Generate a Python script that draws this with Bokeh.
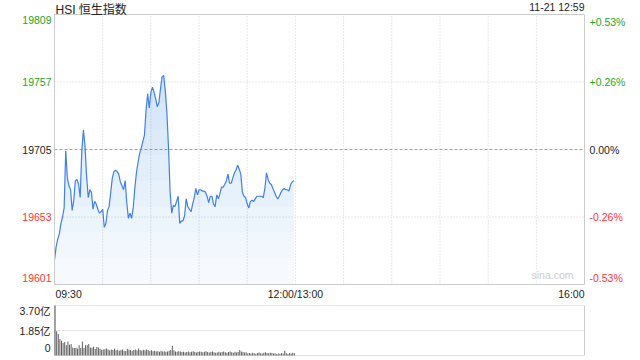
import numpy as np
from bokeh.plotting import figure
from bokeh.models import Label, Range1d
from bokeh.layouts import column
from bokeh.embed import file_html
from bokeh.resources import INLINE

# ---------------- data ----------------
title_text = "HSI 恒生指数"
stamp_text = "11-21 12:59"
prev_close = 19705
price_ticks = [19601, 19653, 19705, 19757, 19809]
pct_labels = ["-0.53%", "-0.26%", "0.00%", "+0.26%", "+0.53%"]
session_minutes = 330  # 09:30-12:00 + 13:00-16:00
time_tick_minutes = [0, 150, 330]
time_tick_labels = ["09:30", "12:00/13:00", "16:00"]
grid_minutes = [30, 60, 90, 120, 150, 180, 210, 240, 270, 300]
vol_ticks = [0, 1.85, 3.70]
vol_tick_labels = ["0", "1.85亿", "3.70亿"]
watermark = "sina.com"

minutes = list(range(150))
price = [
    19620, 19630, 19636, 19640, 19648, 19653, 19660, 19704, 19683, 19677,
    19674, 19658, 19666, 19681, 19682, 19678, 19668, 19704, 19720, 19708,
    19684, 19668, 19674, 19672, 19659, 19665, 19663, 19659, 19656, 19657,
    19659, 19645, 19648, 19658, 19661, 19672, 19683, 19688, 19689, 19688,
    19686, 19680, 19677, 19674, 19681, 19664, 19652, 19656, 19652, 19660,
    19675, 19687, 19695, 19702, 19706, 19711, 19716, 19735, 19748, 19737,
    19749, 19753, 19749, 19744, 19738, 19741, 19752, 19761, 19762, 19750,
    19733, 19706, 19672, 19656, 19662, 19661, 19665, 19669, 19648, 19650,
    19650, 19654, 19667, 19661, 19659, 19657, 19663, 19668, 19675, 19670,
    19674, 19674, 19673, 19673, 19672, 19669, 19664, 19669, 19669, 19663,
    19661, 19670, 19667, 19671, 19676, 19676, 19678, 19681, 19686, 19679,
    19679, 19683, 19687, 19689, 19693, 19690, 19686, 19672, 19669, 19668,
    19663, 19660, 19665, 19666, 19665, 19667, 19669, 19669, 19669, 19669,
    19668, 19675, 19687, 19682, 19679, 19678, 19675, 19672, 19669, 19667,
    19669, 19672, 19674, 19675, 19674, 19674, 19673, 19678, 19680, 19681,
]
volume = [
    3.70, 1.79, 1.59, 1.22, 1.09, 0.92, 0.99, 0.75, 1.04, 0.80,
    0.85, 0.60, 0.55, 0.57, 0.52, 0.75, 0.55, 1.04, 0.55, 0.75,
    0.75, 0.85, 0.60, 0.57, 0.65, 0.48, 0.62, 0.60, 0.50, 0.42,
    0.45, 0.47, 0.52, 0.45, 0.38, 0.45, 0.40, 0.50, 0.38, 0.42,
    0.35, 0.40, 0.44, 0.36, 0.33, 0.48, 0.42, 0.38, 0.35, 0.40,
    0.45, 0.38, 0.52, 0.40, 0.36, 0.42, 0.38, 0.45, 0.40, 0.34,
    0.38, 0.32, 0.36, 0.30, 0.33, 0.28, 0.35, 0.30, 0.32, 0.27,
    0.30, 0.35, 0.40, 0.72, 0.38, 0.30, 0.28, 0.32, 0.30, 0.25,
    0.27, 0.22, 0.25, 0.30, 0.24, 0.28, 0.32, 0.26, 0.22, 0.25,
    0.30, 0.27, 0.24, 0.28, 0.31, 0.25, 0.22, 0.26, 0.29, 0.24,
    0.20, 0.23, 0.27, 0.22, 0.25, 0.29, 0.24, 0.20, 0.26, 0.30,
    0.24, 0.21, 0.27, 0.23, 0.26, 0.40, 0.30, 0.26, 0.22, 0.24,
    0.15, 0.18, 0.14, 0.20, 0.16, 0.13, 0.18, 0.22, 0.17, 0.15,
    0.20, 0.24, 0.19, 0.16, 0.21, 0.18, 0.14, 0.16, 0.12, 0.15,
    0.13, 0.17, 0.14, 0.35, 0.16, 0.12, 0.18, 0.15, 0.20, 0.17,
]

# ---------------- style ----------------
FONT = "Liberation Sans, Noto Sans CJK SC"
GREEN = "#1ea51e"
RED = "#ff3535"
DARK = "#222222"
GRID = "#d0d0d0"
BOX = "#cccccc"
LINE = "#3f80ea"
FS = "10.5px"

W = 640
PAD_L, PAD_R = 54, 56          # room for tick labels left / right of the chart box
MAIN_H, MAIN_T, MAIN_B = 300, 14, 16
VOL_H, VOL_T, VOL_B = 60, 5, 5

ymin, ymax = price_ticks[0], price_ticks[-1]
xs = session_minutes / (W - PAD_L - PAD_R)
x_range = Range1d(-PAD_L * xs, session_minutes + PAD_R * xs)
ks = (ymax - ymin) / (MAIN_H - MAIN_T - MAIN_B)
y_range = Range1d(ymin - MAIN_B * ks, ymax + MAIN_T * ks)

p = figure(width=W, height=MAIN_H, x_range=x_range, y_range=y_range,
           output_backend="svg", toolbar_location=None,
           x_axis_location=None, y_axis_location=None,
           min_border=0)
p.grid.visible = False
p.outline_line_color = None
p.background_fill_color = "white"
p.border_fill_color = "white"

# grid lines inside the chart box
p.segment(x0=grid_minutes, x1=grid_minutes, y0=ymin, y1=ymax,
          line_color=GRID, line_dash="1 2", line_width=1)
hgrid = [price_ticks[1], price_ticks[3]]
p.segment(x0=0, x1=session_minutes, y0=hgrid, y1=hgrid,
          line_color=GRID, line_dash="1 2", line_width=1)
p.segment(x0=0, x1=session_minutes, y0=prev_close, y1=prev_close,
          line_color="#a0a0a0", line_dash="3 2", line_width=1)

# gradient-like fill under the line
pr = np.array(price, dtype=float)
p.varea(x=minutes, y1=ymin, y2=pr, fill_color=LINE, fill_alpha=0.02)
for lvl in range(ymin, 19770, 20):
    p.varea(x=minutes, y1=lvl, y2=np.maximum(pr, lvl), fill_color=LINE, fill_alpha=0.026)
p.line(minutes, price, line_color=LINE, line_width=1.2)

# chart box
p.quad(left=0, right=session_minutes, bottom=ymin, top=ymax,
       fill_color=None, line_color=BOX, line_width=1)

# price tick labels (left) and percent labels (right)
n = len(price_ticks)
for i, (v, pl) in enumerate(zip(price_ticks, pct_labels)):
    col = GREEN if v > prev_close else (RED if v < prev_close else DARK)
    if i == 0:
        base, yo = "alphabetic", 7
    elif i == n - 1:
        base, yo = "top", -1
    else:
        base, yo = "middle", 0
    p.add_layout(Label(x=0, y=v, text=str(v), x_offset=-3, y_offset=yo,
                       text_align="right", text_baseline=base, text_color=col,
                       text_font=FONT, text_font_size=FS))
    p.add_layout(Label(x=session_minutes, y=v, text=pl, x_offset=5, y_offset=yo,
                       text_align="left", text_baseline=base, text_color=col,
                       text_font=FONT, text_font_size=FS))

# time labels
aligns = ["left", "center", "right"]
xoffs = [1, 0, 0]
for m, t, a, xo in zip(time_tick_minutes, time_tick_labels, aligns, xoffs):
    p.add_layout(Label(x=m, y=ymin, text=t, x_offset=xo, y_offset=-3,
                       text_align=a, text_baseline="top", text_color=DARK,
                       text_font=FONT, text_font_size=FS))

# header texts
p.add_layout(Label(x=0, y=ymax, text=title_text, x_offset=1, y_offset=5,
                   text_align="left", text_baseline="alphabetic", text_color=DARK,
                   text_font=FONT, text_font_size="12px"))
p.add_layout(Label(x=session_minutes, y=ymax, text=stamp_text, x_offset=0, y_offset=7.5,
                   text_align="right", text_baseline="alphabetic", text_color=DARK,
                   text_font=FONT, text_font_size=FS))
p.add_layout(Label(x=session_minutes, y=ymin, text=watermark, x_offset=-11, y_offset=4,
                   text_align="right", text_baseline="bottom", text_color="#cccccc",
                   text_font=FONT, text_font_size=FS))

# ---------------- volume panel ----------------
vmin, vmax = vol_ticks[0], vol_ticks[-1]
kv = (vmax - vmin) / (VOL_H - VOL_T - VOL_B)
pv = figure(width=W, height=VOL_H, x_range=x_range,
            y_range=Range1d(vmin - VOL_B * kv, vmax + VOL_T * kv),
            output_backend="svg", toolbar_location=None,
            x_axis_location=None, y_axis_location=None, min_border=0)
pv.grid.visible = False
pv.outline_line_color = None
pv.background_fill_color = "white"
pv.border_fill_color = "white"

pv.segment(x0=0, x1=session_minutes, y0=vol_ticks, y1=vol_ticks,
           line_color="#c8c8c8", line_dash="1 1", line_width=1)
pv.segment(x0=[0, session_minutes], x1=[0, session_minutes], y0=vmin, y1=vmax,
           line_color=BOX, line_width=1)
pv.vbar(x=[m + 0.35 for m in minutes], top=volume, bottom=vmin, width=0.6,
        fill_color="#5a5a5a", line_color=None)

vbases = ["bottom", "middle", "top"]
voffs = [4, 0, 1]
for v, t, b, yo in zip(vol_ticks, vol_tick_labels, vbases, voffs):
    pv.add_layout(Label(x=0, y=v, text=t, x_offset=-4, y_offset=yo, text_align="right",
                        text_baseline=b, text_color=DARK, text_font=FONT,
                        text_font_size=FS))

layout = column(p, pv, spacing=0)
open("out.html", "w").write(file_html(layout, INLINE))
